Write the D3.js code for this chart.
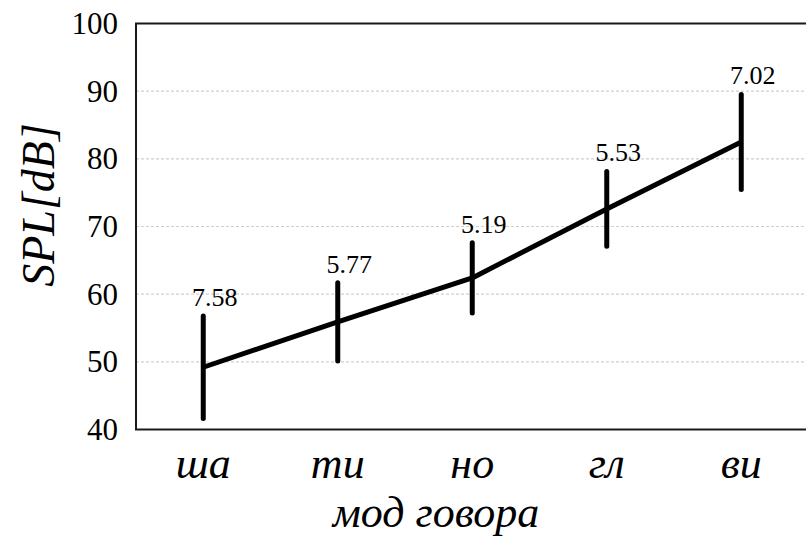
<!DOCTYPE html>
<html>
<head>
<meta charset="utf-8">
<script src="https://cdn.jsdelivr.net/npm/d3@7"></script>
<style>
  html, body { margin: 0; padding: 0; background: #fff; }
  svg { display: block; }
</style>
</head>
<body>
<svg id="chart" width="806" height="537"></svg>
<script>
// Speech modes (categories) and mean SPL with standard deviation
const modes = ["ша", "ти", "но", "гл", "ви"];
const meanSPL = [49.2, 55.9, 62.4, 72.6, 82.5];
const stdSPL = [7.58, 5.77, 5.19, 5.53, 7.02];
const yTicks = [40, 50, 60, 70, 80, 90, 100];

const data = modes.map((m, i) => ({ mode: m, mean: meanSPL[i], sd: stdSPL[i] }));

const FONT = "'Liberation Serif', 'Times New Roman', serif";
const svg = d3.select("#chart");
const plotLeft = 136, plotRight = 808.5, plotTop = 23.5, plotBottom = 429.5;

const x = d3.scaleBand().domain(modes).range([plotLeft, plotRight]);
const y = d3.scaleLinear().domain([40, 100]).range([plotBottom, plotTop]);
const cx = d => x(d.mode) + x.bandwidth() / 2;

// dotted horizontal gridlines
svg.append("g")
  .selectAll("line")
  .data(yTicks.filter(t => t > 40 && t < 100))
  .join("line")
  .attr("x1", plotLeft).attr("x2", 806)
  .attr("y1", d => y(d)).attr("y2", d => y(d))
  .attr("stroke", "#cfcfcf")
  .attr("stroke-width", 1.2)
  .attr("stroke-dasharray", "3,2");

// y axis with labels only
const yAxis = svg.append("g")
  .attr("transform", `translate(${plotLeft},0)`)
  .call(d3.axisLeft(y).tickValues(yTicks).tickSize(0).tickPadding(18));
yAxis.select(".domain").remove();
yAxis.selectAll("text")
  .style("font-family", FONT)
  .style("font-size", "31px")
  .attr("fill", "#000");

// frame: left, top and bottom edges
svg.append("path")
  .attr("d", `M806,${plotTop}H${plotLeft}V${plotBottom}H806`)
  .attr("stroke", "#1a1a1a").attr("stroke-width", 2).attr("fill", "none");

// x axis category labels
const xAxis = svg.append("g")
  .attr("transform", `translate(0,${plotBottom})`)
  .call(d3.axisBottom(x).tickSize(0).tickPadding(0));
xAxis.select(".domain").remove();
xAxis.selectAll("text")
  .attr("dy", null)
  .attr("y", 48)
  .style("font-family", FONT)
  .style("font-style", "italic")
  .style("font-size", "44px")
  .attr("fill", "#000");

// mean line
svg.append("path")
  .datum(data)
  .attr("fill", "none")
  .attr("stroke", "#000")
  .attr("stroke-width", 5)
  .attr("stroke-linejoin", "round")
  .attr("d", d3.line().x(cx).y(d => y(d.mean)));

// error bars (± one standard deviation)
svg.append("g")
  .selectAll("line")
  .data(data)
  .join("line")
  .attr("x1", cx).attr("x2", cx)
  .attr("y1", d => y(d.mean - d.sd))
  .attr("y2", d => y(d.mean + d.sd))
  .attr("stroke", "#000")
  .attr("stroke-width", 5)
  .attr("stroke-linecap", "round");

// standard deviation labels above each bar
svg.append("g")
  .selectAll("text")
  .data(data)
  .join("text")
  .attr("x", d => cx(d) + 11.5)
  .attr("y", d => y(d.mean + d.sd) - 10)
  .attr("text-anchor", "middle")
  .style("font-family", FONT)
  .style("font-size", "26px")
  .text(d => d.sd.toFixed(2));

// axis titles
svg.append("text")
  .attr("x", 436).attr("y", 527)
  .attr("text-anchor", "middle")
  .style("font-family", FONT)
  .style("font-style", "italic")
  .style("font-size", "44px")
  .text("мод говора");

svg.append("text")
  .attr("transform", "translate(54,205) rotate(-90)")
  .attr("text-anchor", "middle")
  .style("font-family", FONT)
  .style("font-style", "italic")
  .style("font-size", "46px")
  .text("SPL[dB]");
</script>
</body>
</html>
